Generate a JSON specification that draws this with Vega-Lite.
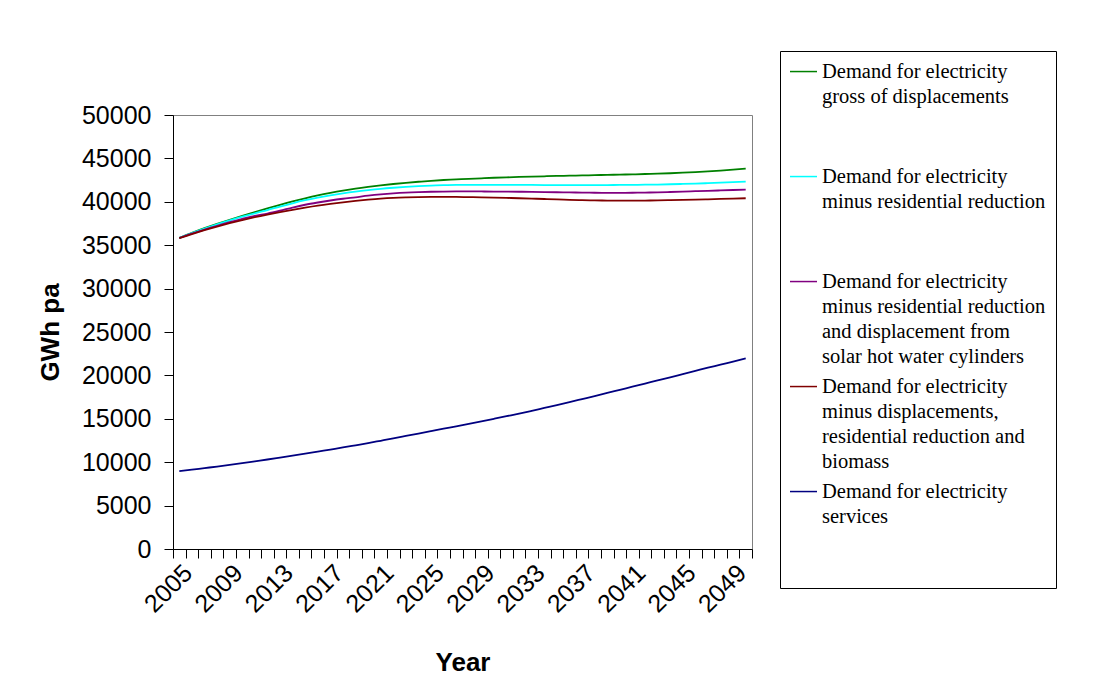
{
  "$schema": "https://vega.github.io/schema/vega-lite/v6.json",
  "width": 579,
  "height": 434,
  "autosize": {"type": "none"},
  "padding": {"left": 173, "top": 115, "right": 344, "bottom": 144},
  "background": "#ffffff",
  "config": {
    "view": {"stroke": "#808080", "strokeWidth": 1},
    "style": {"guide-label": {"lineHeight": 25}},
    "axis": {
      "labelFont": "Liberation Sans",
      "titleFont": "Liberation Sans",
      "labelColor": "#000000",
      "titleColor": "#000000",
      "domainColor": "#000000",
      "tickColor": "#000000",
      "grid": false
    }
  },
  "data": {
    "values": [
      {"year": 2005, "gross": 35850, "minus_res": 35850, "minus_res_solar": 35830, "minus_all": 35800, "services": 8970},
      {"year": 2006, "gross": 36420, "minus_res": 36400, "minus_res_solar": 36330, "minus_all": 36280, "services": 9140},
      {"year": 2007, "gross": 36960, "minus_res": 36920, "minus_res_solar": 36800, "minus_all": 36730, "services": 9320},
      {"year": 2008, "gross": 37460, "minus_res": 37410, "minus_res_solar": 37240, "minus_all": 37150, "services": 9500},
      {"year": 2009, "gross": 37930, "minus_res": 37860, "minus_res_solar": 37650, "minus_all": 37540, "services": 9690},
      {"year": 2010, "gross": 38380, "minus_res": 38280, "minus_res_solar": 38030, "minus_all": 37900, "services": 9890},
      {"year": 2011, "gross": 38820, "minus_res": 38680, "minus_res_solar": 38380, "minus_all": 38230, "services": 10100},
      {"year": 2012, "gross": 39240, "minus_res": 39050, "minus_res_solar": 38650, "minus_all": 38530, "services": 10310},
      {"year": 2013, "gross": 39650, "minus_res": 39450, "minus_res_solar": 38980, "minus_all": 38810, "services": 10530},
      {"year": 2014, "gross": 40040, "minus_res": 39830, "minus_res_solar": 39340, "minus_all": 39080, "services": 10750},
      {"year": 2015, "gross": 40400, "minus_res": 40180, "minus_res_solar": 39660, "minus_all": 39330, "services": 10980},
      {"year": 2016, "gross": 40730, "minus_res": 40490, "minus_res_solar": 39920, "minus_all": 39560, "services": 11220},
      {"year": 2017, "gross": 41020, "minus_res": 40750, "minus_res_solar": 40150, "minus_all": 39760, "services": 11460},
      {"year": 2018, "gross": 41280, "minus_res": 40980, "minus_res_solar": 40350, "minus_all": 39940, "services": 11700},
      {"year": 2019, "gross": 41510, "minus_res": 41180, "minus_res_solar": 40520, "minus_all": 40100, "services": 11950},
      {"year": 2020, "gross": 41710, "minus_res": 41350, "minus_res_solar": 40700, "minus_all": 40240, "services": 12200},
      {"year": 2021, "gross": 41890, "minus_res": 41500, "minus_res_solar": 40850, "minus_all": 40360, "services": 12470},
      {"year": 2022, "gross": 42050, "minus_res": 41620, "minus_res_solar": 40970, "minus_all": 40450, "services": 12740},
      {"year": 2023, "gross": 42190, "minus_res": 41720, "minus_res_solar": 41060, "minus_all": 40510, "services": 13020},
      {"year": 2024, "gross": 42310, "minus_res": 41800, "minus_res_solar": 41120, "minus_all": 40550, "services": 13300},
      {"year": 2025, "gross": 42420, "minus_res": 41860, "minus_res_solar": 41160, "minus_all": 40570, "services": 13580},
      {"year": 2026, "gross": 42510, "minus_res": 41910, "minus_res_solar": 41180, "minus_all": 40570, "services": 13860},
      {"year": 2027, "gross": 42580, "minus_res": 41940, "minus_res_solar": 41190, "minus_all": 40560, "services": 14130},
      {"year": 2028, "gross": 42650, "minus_res": 41950, "minus_res_solar": 41190, "minus_all": 40540, "services": 14410},
      {"year": 2029, "gross": 42710, "minus_res": 41960, "minus_res_solar": 41190, "minus_all": 40510, "services": 14700},
      {"year": 2030, "gross": 42770, "minus_res": 41960, "minus_res_solar": 41180, "minus_all": 40480, "services": 15000},
      {"year": 2031, "gross": 42820, "minus_res": 41960, "minus_res_solar": 41170, "minus_all": 40450, "services": 15300},
      {"year": 2032, "gross": 42860, "minus_res": 41950, "minus_res_solar": 41160, "minus_all": 40410, "services": 15600},
      {"year": 2033, "gross": 42900, "minus_res": 41940, "minus_res_solar": 41140, "minus_all": 40370, "services": 15920},
      {"year": 2034, "gross": 42940, "minus_res": 41930, "minus_res_solar": 41120, "minus_all": 40320, "services": 16250},
      {"year": 2035, "gross": 42980, "minus_res": 41920, "minus_res_solar": 41100, "minus_all": 40270, "services": 16580},
      {"year": 2036, "gross": 43010, "minus_res": 41920, "minus_res_solar": 41080, "minus_all": 40230, "services": 16920},
      {"year": 2037, "gross": 43040, "minus_res": 41920, "minus_res_solar": 41060, "minus_all": 40190, "services": 17270},
      {"year": 2038, "gross": 43070, "minus_res": 41920, "minus_res_solar": 41040, "minus_all": 40160, "services": 17620},
      {"year": 2039, "gross": 43100, "minus_res": 41930, "minus_res_solar": 41030, "minus_all": 40140, "services": 17980},
      {"year": 2040, "gross": 43130, "minus_res": 41940, "minus_res_solar": 41030, "minus_all": 40130, "services": 18340},
      {"year": 2041, "gross": 43160, "minus_res": 41950, "minus_res_solar": 41040, "minus_all": 40130, "services": 18700},
      {"year": 2042, "gross": 43200, "minus_res": 41970, "minus_res_solar": 41060, "minus_all": 40140, "services": 19060},
      {"year": 2043, "gross": 43240, "minus_res": 41990, "minus_res_solar": 41090, "minus_all": 40160, "services": 19420},
      {"year": 2044, "gross": 43290, "minus_res": 42020, "minus_res_solar": 41130, "minus_all": 40190, "services": 19780},
      {"year": 2045, "gross": 43350, "minus_res": 42060, "minus_res_solar": 41170, "minus_all": 40220, "services": 20150},
      {"year": 2046, "gross": 43420, "minus_res": 42100, "minus_res_solar": 41220, "minus_all": 40250, "services": 20520},
      {"year": 2047, "gross": 43500, "minus_res": 42150, "minus_res_solar": 41260, "minus_all": 40290, "services": 20890},
      {"year": 2048, "gross": 43590, "minus_res": 42200, "minus_res_solar": 41310, "minus_all": 40330, "services": 21240},
      {"year": 2049, "gross": 43700, "minus_res": 42260, "minus_res_solar": 41360, "minus_all": 40370, "services": 21600},
      {"year": 2050, "gross": 43830, "minus_res": 42330, "minus_res_solar": 41410, "minus_all": 40410, "services": 21950}
    ]
  },
  "transform": [
    {"fold": ["gross", "minus_res", "minus_res_solar", "minus_all", "services"], "as": ["series", "value"]}
  ],
  "mark": {"type": "line", "strokeWidth": 1.8, "interpolate": "monotone"},
  "encoding": {
    "x": {
      "field": "year",
      "type": "quantitative",
      "scale": {"domain": [2004.5, 2050.5], "nice": false, "zero": false},
      "axis": {
        "title": "Year",
        "titleFontSize": 26,
        "titleFontWeight": "bold",
        "titlePadding": 32,
        "values": [2004.5, 2005.5, 2006.5, 2007.5, 2008.5, 2009.5, 2010.5, 2011.5, 2012.5, 2013.5, 2014.5, 2015.5, 2016.5, 2017.5, 2018.5, 2019.5, 2020.5, 2021.5, 2022.5, 2023.5, 2024.5, 2025.5, 2026.5, 2027.5, 2028.5, 2029.5, 2030.5, 2031.5, 2032.5, 2033.5, 2034.5, 2035.5, 2036.5, 2037.5, 2038.5, 2039.5, 2040.5, 2041.5, 2042.5, 2043.5, 2044.5, 2045.5, 2046.5, 2047.5, 2048.5, 2049.5, 2050.5],
        "labelExpr": "((datum.value - 2004.5) % 4 == 0 && datum.value < 2050) ? '' + (datum.value + 0.5) : ''",
        "labelOffset": 6.29,
        "labelAngle": -45,
        "labelFontSize": 25,
        "labelOverlap": false,
        "labelFlush": false,
        "labelBound": false,
        "labelPadding": 2,
        "tickSize": 9,
        "tickWidth": 1,
        "domainWidth": 1
      }
    },
    "y": {
      "field": "value",
      "type": "quantitative",
      "scale": {"domain": [0, 50000], "nice": false},
      "axis": {
        "title": "GWh pa",
        "titleFontSize": 26,
        "titleFontWeight": "bold",
        "titlePadding": 18,
        "values": [0, 5000, 10000, 15000, 20000, 25000, 30000, 35000, 40000, 45000, 50000],
        "format": "d",
        "labelFontSize": 25,
        "labelPadding": 13,
        "tickSize": 9,
        "labelOverlap": false,
        "labelFlush": false
      }
    },
    "color": {
      "field": "series",
      "type": "nominal",
      "scale": {
        "domain": ["gross", "minus_res", "minus_res_solar", "minus_all", "services"],
        "range": ["#008000", "#00FFFF", "#800080", "#800000", "#000080"]
      },
      "legend": {
        "title": " ",
        "titleFontSize": 1,
        "titlePadding": 6,
        "orient": "none",
        "legendX": 607,
        "legendY": -64,
        "padding": 10,
        "strokeColor": "#000000",
        "fillColor": "#ffffff",
        "symbolType": "M-3.857,-1.914H3.857",
        "symbolSize": 49,
        "symbolOffset": 3.25,
        "symbolStrokeWidth": 1.5,
        "labelFont": "Liberation Serif",
        "labelFontSize": 20.5,
        "labelBaseline": "alphabetic",
        "labelColor": "#000000",
        "labelLimit": 400,
        "labelOffset": 8.25,
        "gridAlign": "each",
        "rowPadding": 9,
        "labelExpr": "datum.value == 'gross' ? ['Demand for electricity', 'gross of displacements', '', ''] : datum.value == 'minus_res' ? ['Demand for electricity', 'minus residential reduction', '', ''] : datum.value == 'minus_res_solar' ? ['Demand for electricity', 'minus residential reduction', 'and displacement from', 'solar hot water cylinders'] : datum.value == 'minus_all' ? ['Demand for electricity', 'minus displacements,', 'residential reduction and', 'biomass'] : ['Demand for electricity', 'services', '', '']"
      }
    }
  }
}
